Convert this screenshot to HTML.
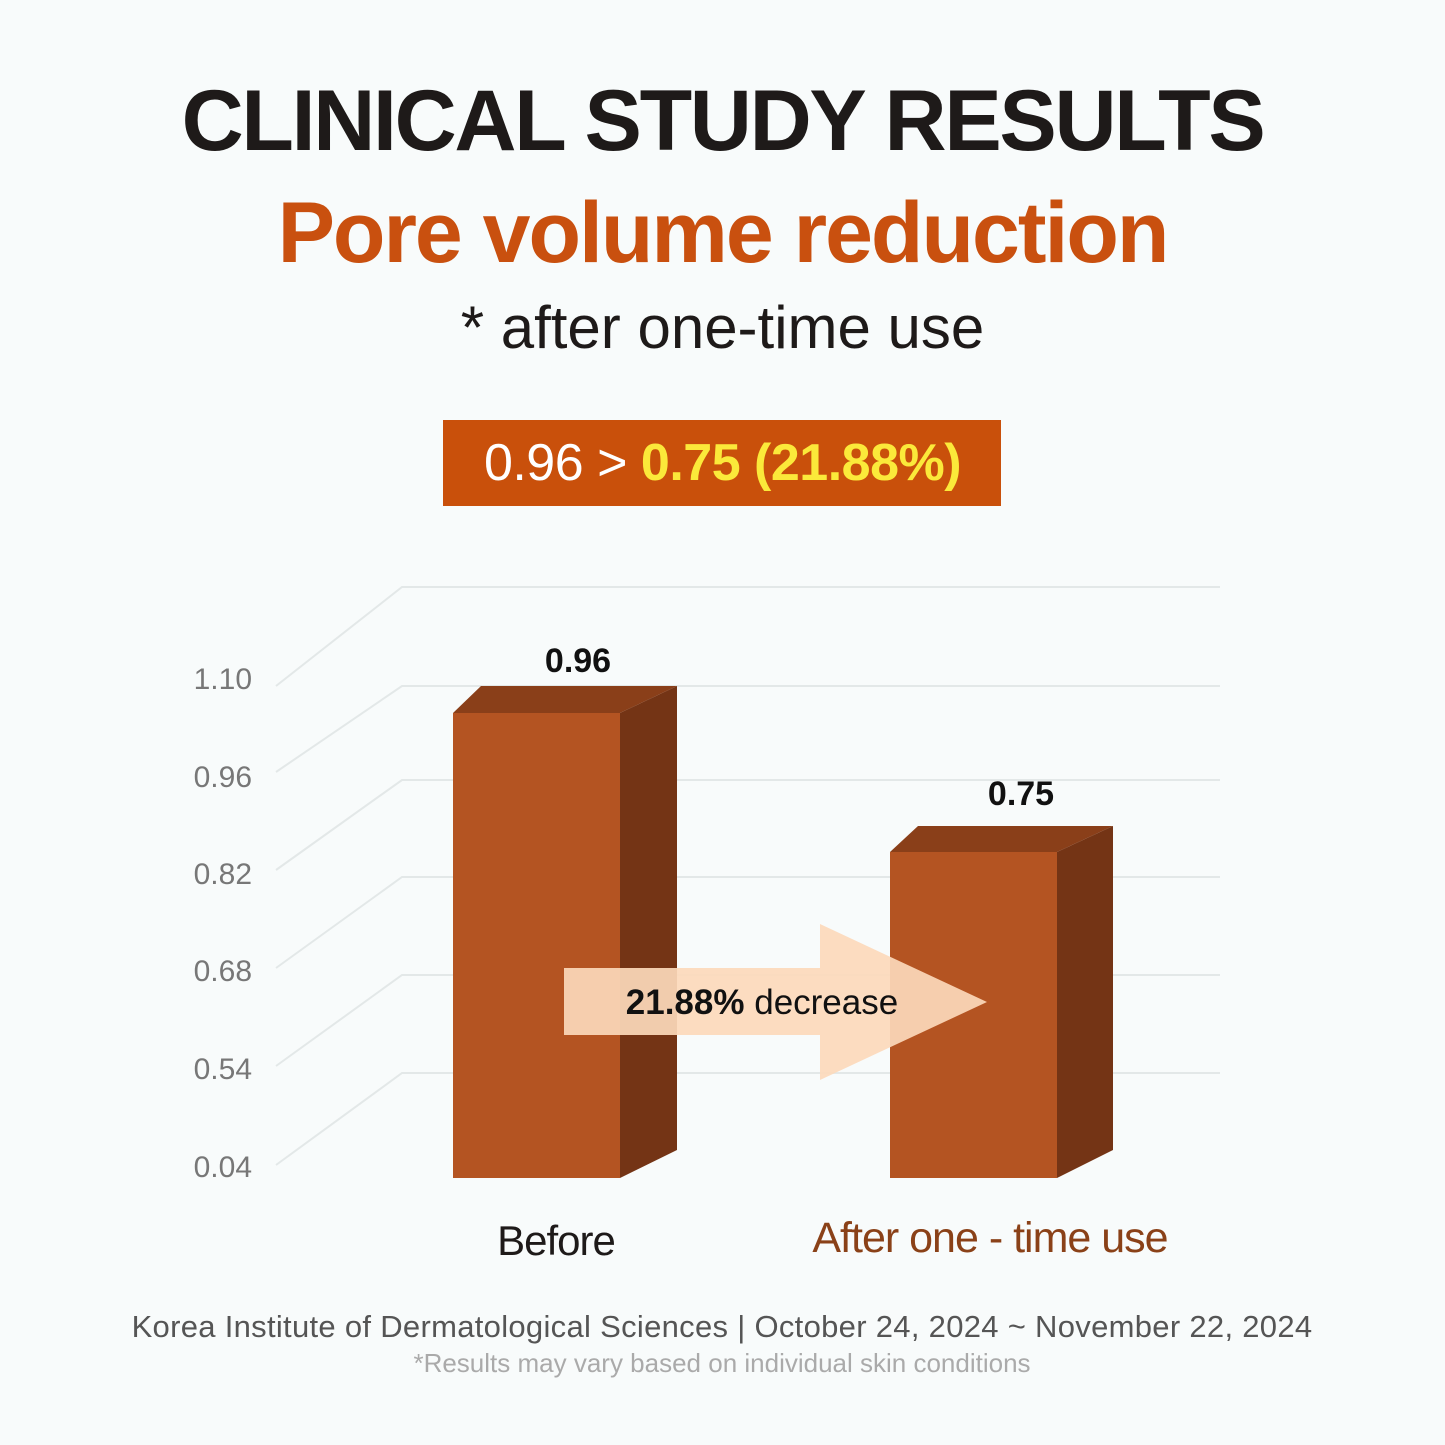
<!DOCTYPE html>
<html><head><meta charset="utf-8"><style>
html,body{margin:0;padding:0;background:#f8fbfb}
.w{position:relative;width:1445px;height:1445px;overflow:hidden;background:#f8fbfb;font-family:"Liberation Sans","DejaVu Sans",sans-serif}
.t{position:absolute;left:0;width:1445px;text-align:center;white-space:nowrap}
</style></head><body><div class="w">
<div class="t" style="top:72px;font-size:86px;font-weight:bold;color:#1e1a19;letter-spacing:-2.3px">CLINICAL STUDY RESULTS</div>
<div class="t" style="top:184px;font-size:86px;font-weight:bold;color:#c9500f;letter-spacing:-2px">Pore volume reduction</div>
<div class="t" style="top:293px;font-size:60px;color:#1e1a19;letter-spacing:0px">* after one-time use</div>
<div style="position:absolute;left:443px;top:420px;width:558px;height:86px;background:#c9500b"></div>
<div class="t" style="top:433px;font-size:52px;color:#fff;letter-spacing:-0.5px">0.96 &gt; <b style="color:#fbe93a">0.75 (21.88%)</b></div>
<svg style="position:absolute;left:0;top:0" width="1445" height="1445">
<g stroke="#e3e8e8" stroke-width="2" fill="none">
<polyline points="276,686 402,587 1220,587"/>
<polyline points="276,772 402,686 1220,686"/>
<polyline points="276,870 402,780 1220,780"/>
<polyline points="276,968 402,877 1220,877"/>
<polyline points="276,1066 402,975 1220,975"/>
<polyline points="276,1165 402,1073 1220,1073"/>
</g>
<g font-size="30" fill="#777" text-anchor="end" font-family="Liberation Sans,sans-serif">
<text x="252" y="689">1.10</text><text x="252" y="787">0.96</text><text x="252" y="884">0.82</text>
<text x="252" y="981">0.68</text><text x="252" y="1079">0.54</text><text x="252" y="1177">0.04</text>
</g>
<polygon points="453,713 481,686 677,686 620,713" fill="#8a3f19"/>
<polygon points="620,713 677,686 677,1150 620,1178" fill="#743415"/>
<rect x="453" y="713" width="167" height="465" fill="#b45422"/>
<polygon points="890,852 918,826 1113,826 1057,852" fill="#8a3f19"/>
<polygon points="1057,852 1113,826 1113,1150 1057,1178" fill="#743415"/>
<rect x="890" y="852" width="167" height="326" fill="#b45422"/>
<polygon points="564,968 820,968 820,924 987,1002 820,1080 820,1035 564,1035" fill="#fcd9bb" fill-opacity="0.92"/>
<text x="578" y="672" font-size="34" font-weight="bold" text-anchor="middle" fill="#111">0.96</text>
<text x="1021" y="805" font-size="34" font-weight="bold" text-anchor="middle" fill="#111">0.75</text>
<text x="762" y="1014" font-size="35" text-anchor="middle" fill="#111"><tspan font-weight="bold">21.88%</tspan> decrease</text>
<text x="556" y="1255" font-size="42" text-anchor="middle" fill="#1e1a19" letter-spacing="-1">Before</text>
<text x="990" y="1252" font-size="43" text-anchor="middle" fill="#8a4118" letter-spacing="-1">After one - time use</text>
<text x="722" y="1337" font-size="31" text-anchor="middle" fill="#555" letter-spacing="0.3">Korea Institute of Dermatological Sciences | October 24, 2024 ~ November 22, 2024</text>
<text x="722" y="1372" font-size="26" text-anchor="middle" fill="#aaa">*Results may vary based on individual skin conditions</text>
</svg>
</div></body></html>
